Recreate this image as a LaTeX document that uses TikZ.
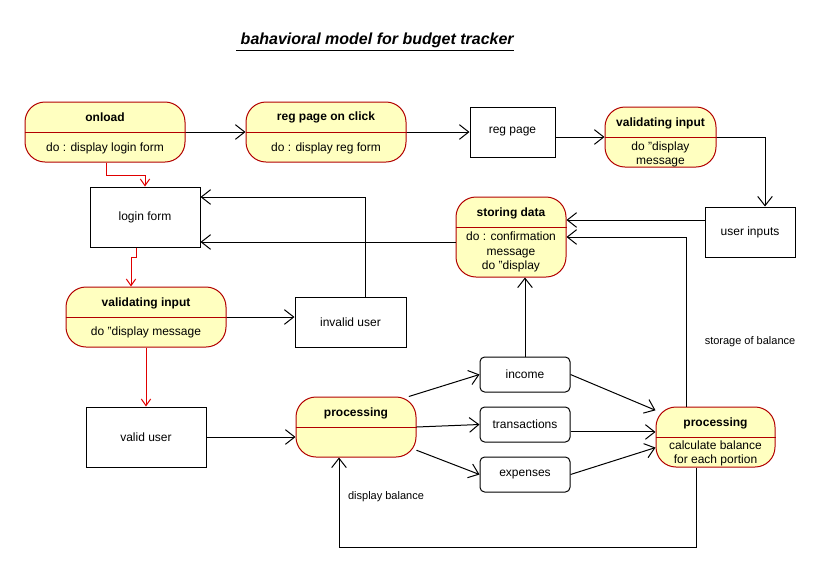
\documentclass[tikz,border=0pt]{standalone}
\usepackage{fontspec}
\setmainfont{Liberation Sans}
\usetikzlibrary{arrows.meta}
\definecolor{statefill}{HTML}{FFFFC0}
\definecolor{stateline}{HTML}{B20000}
\definecolor{redline}{HTML}{E00000}
\begin{document}
\begin{tikzpicture}[x=0.75pt, y=-0.75pt,
  every node/.style = {font=\fontsize{9pt}{10.5pt}\selectfont, align=center, inner sep=1pt},
  state/.style = {draw=stateline, fill=statefill, rounded corners=15pt, line width=0.75pt},
  sttitle/.style = {font=\fontsize{9pt}{10.5pt}\selectfont\bfseries},
  box/.style = {draw, line width=0.75pt},
  rbox/.style = {draw, rounded corners=3.5pt, line width=0.75pt,
    minimum width=67.5pt, minimum height=26.25pt},
  flow/.style = {draw, line width=0.75pt, -{Straight Barb[length=7pt,width=11pt]}},
  redflow/.style = {draw=redline, line width=0.75pt, -{Straight Barb[length=5pt,width=7pt]}},
  small/.style = {font=\fontsize{8.25pt}{10pt}\selectfont}]

  \useasboundingbox (0,0) rectangle (836,587);

  \node[font=\fontsize{12pt}{14pt}\selectfont\bfseries\itshape] (title) at (375,42)
    {\underline{\ bahavioral model for budget tracker}};

  % top row
  \node[state, minimum width=120pt, minimum height=45pt] (onload) at (105,132) {};
  \draw[stateline] (onload.west) -- (onload.east);
  \node[sttitle] (onload-t) at (105,117) {onload};
  \node (onload-b) at (105,148) {do : display login form};

  \node[state, minimum width=120pt, minimum height=45pt] (regclick) at (326,132) {};
  \draw[stateline] (regclick.west) -- (regclick.east);
  \node[sttitle] (regclick-t) at (326,117) {reg page on click};
  \node (regclick-b) at (326,148) {do : display reg form};

  \node[box, minimum width=63.75pt, minimum height=37.5pt] (regpage) at (512.5,132) {reg page};

  \node[state, minimum width=83.25pt, minimum height=45pt] (valreg) at (660.5,137) {};
  \draw[stateline] (valreg.west) -- (valreg.east);
  \node[sttitle] (valreg-t) at (660.5,123) {validating input};
  \node (valreg-b) at (660.5,154) {do "display\\message};

  \node[box, minimum width=67.5pt, minimum height=37.5pt] (userin) at (750,232) {user inputs};

  % storing
  \node[state, minimum width=82.5pt, minimum height=60pt] (storing) at (511,237) {};
  \draw[stateline] ([yshift=7.5pt]storing.west) -- ([yshift=7.5pt]storing.east);
  \node[sttitle] (storing-t) at (511,213) {storing data};
  \node[font=\fontsize{9pt}{11pt}\selectfont] (storing-b) at (511,252)
    {do : confirmation\\message\\do "display};

  % login side
  \node[box, minimum width=82.5pt, minimum height=45pt] (login) at (145,217) {login form};

  \node[state, minimum width=120pt, minimum height=45pt] (vallogin) at (146,317) {};
  \draw[stateline] (vallogin.west) -- (vallogin.east);
  \node[sttitle] (vallogin-t) at (146,303) {validating input};
  \node (vallogin-b) at (146,332) {do "display message};

  \node[box, minimum width=83.25pt, minimum height=37.5pt] (invalid) at (350.5,322) {invalid user};
  \node[box, minimum width=90pt, minimum height=45pt] (valid) at (146,437) {valid user};

  % processing
  \node[state, minimum width=90pt, minimum height=45pt] (proc1) at (356,427) {};
  \draw[stateline] (proc1.west) -- (proc1.east);
  \node[sttitle] (proc1-t) at (356,413) {processing};

  \node[rbox] (income) at (525,374.5) {income};
  \node[rbox] (trans) at (525,424.5) {transactions};
  \node[rbox] (expen) at (525,474.5) {expenses};

  \node[state, minimum width=89.25pt, minimum height=45pt] (proc2) at (715.5,437) {};
  \draw[stateline] (proc2.west) -- (proc2.east);
  \node[sttitle] (proc2-t) at (715.5,423) {processing};
  \node[font=\fontsize{9pt}{10pt}\selectfont] (proc2-b) at (715.5,453.5) {calculate balance\\for each portion};

  \node[small] (storelbl) at (750,342) {storage of balance};
  \node[small] (displbl) at (386,497) {display balance};

  % connectors
  \draw[flow] (onload.east) -- (regclick.west);
  \draw[flow] (regclick.east) -- (regpage.west);
  \draw[flow] (regpage.east |- valreg.west) -- (valreg.west);
  \draw[flow] (valreg.east) -| ([xshift=11.25pt]userin.north);
  \draw[flow] ([yshift=9pt]userin.west) -- ([yshift=9pt]userin.west -| storing.east);
  \draw[flow] ([xshift=-22.1pt]proc2.north) |- (storing.east);
  \draw[flow] ([yshift=-3.75pt]storing.west) -- ([yshift=-3.75pt]storing.west -| login.east);
  \draw[flow] ([xshift=10.9pt]invalid.north) |- ([yshift=15pt]login.east);
  \draw[redflow] ([xshift=0.75pt]onload.south) -- ++(0,13) -| (login.north);
  \draw[redflow] ([xshift=-6.75pt]login.south) -- ++(0,10) -| ([xshift=-11.25pt]vallogin.north);
  \draw[redflow] (vallogin.south) -- (valid.north);
  \draw[flow] (vallogin.east) -- (vallogin.east -| invalid.west);
  \draw[flow] (valid.east) -- (valid.east -| proc1.west);
  \draw[flow] (proc1.30) -- (income.west);
  \draw[flow] (proc1.east) -- (trans.west);
  \draw[flow] (proc1.-21) -- (expen.west);
  \draw[flow] (income.east) -- (proc2.156);
  \draw[flow] ([yshift=-5.6pt]trans.east) -- ([yshift=-5.6pt]trans.east -| proc2.west);
  \draw[flow] (expen.east) -- (proc2.190);
  \draw[flow] (income.north) -- (income.north |- storing.south);
  \draw[flow] ([xshift=-14.6pt]proc2.south) -- ++(0,80) -| ([xshift=-12.75pt]proc1.south);
\end{tikzpicture}
\end{document}
